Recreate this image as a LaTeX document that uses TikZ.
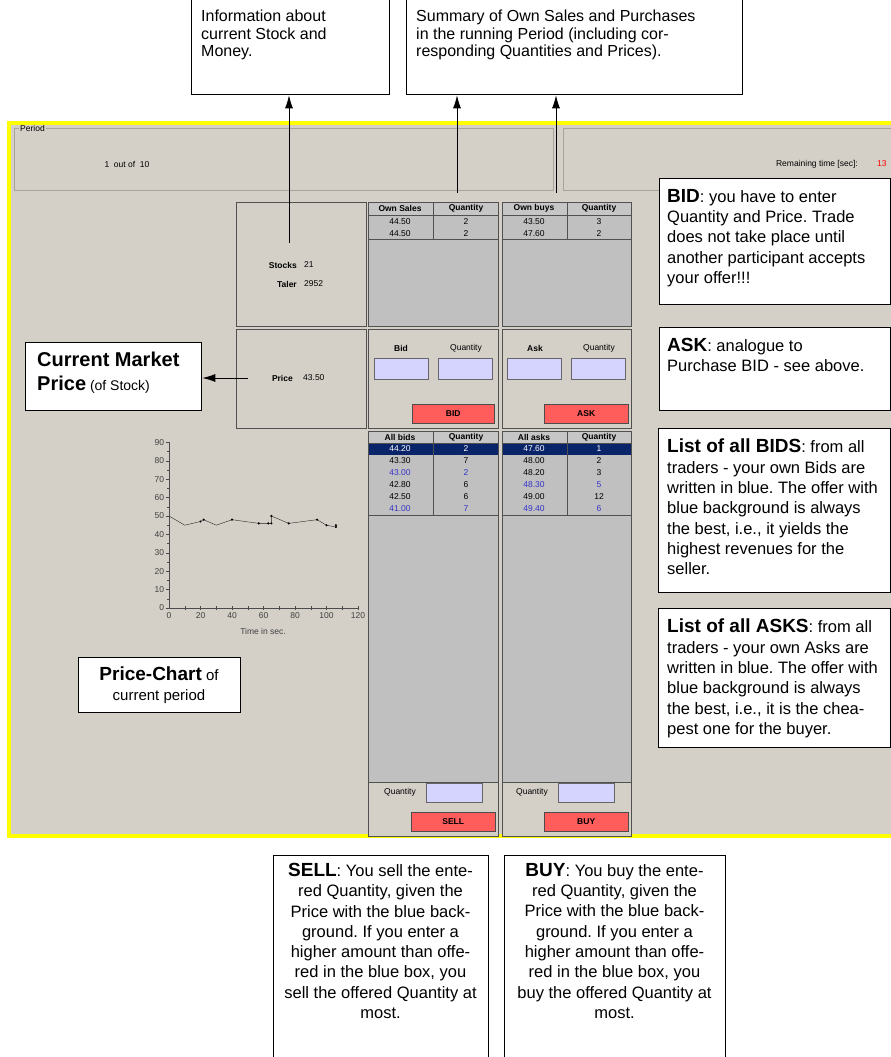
\documentclass[tikz,border=0pt]{standalone}
\usepackage{fontspec}
\setmainfont{Liberation Sans}
\usetikzlibrary{calc, arrows.meta}
\frenchspacing

\definecolor{winbg}{HTML}{D4D0C8}
\definecolor{listgrey}{HTML}{C0C0C0}
\definecolor{headgrey}{HTML}{C6C6C6}
\definecolor{panelline}{HTML}{505050}
\definecolor{navybar}{HTML}{0A246A}
\definecolor{inputblue}{HTML}{D4D4FF}
\definecolor{btnred}{HTML}{FF5C5C}
\definecolor{ownblue}{HTML}{3434C8}
\definecolor{framey}{HTML}{FFFF00}
\definecolor{etch}{HTML}{A8A49C}

\newcommand{\notefont}{\fontsize{16.5}{20.3}\selectfont}
\newcommand{\topfont}{\fontsize{16}{17.5}\selectfont}
\newcommand{\headfont}{\fontsize{19}{20.3}\selectfont\bfseries}
\newcommand{\uifont}{\fontsize{8.5}{10}\selectfont}
\newcommand{\uibold}{\fontsize{8.5}{10}\selectfont\bfseries}

\begin{document}
\begin{tikzpicture}[x=1pt, y=-1pt,
  note/.style={draw=black, line width=1.3pt, fill=white, anchor=north west, inner sep=0pt},
  txt/.style={anchor=north west, inner sep=0pt, align=left, font=\notefont},
  ctxt/.style={anchor=north, inner sep=0pt, align=center, font=\notefont},
  panel/.style={draw=panelline, fill=winbg, anchor=north west, inner sep=0pt},
  list/.style={draw=panelline, fill=listgrey, anchor=north west, inner sep=0pt},
  field/.style={draw=gray!80!black, fill=inputblue, anchor=north west, inner sep=0pt},
  button/.style={draw=black!70, fill=btnred, anchor=north west, inner sep=0pt, font=\uibold},
  lbl/.style={inner sep=0pt, font=\uifont},
  blbl/.style={inner sep=0pt, font=\uibold},
  arr/.style={-{Latex[length=13pt,width=8pt]}, line width=0.9pt}]

\useasboundingbox (0,0) rectangle (891,1057);
\clip (0,0) rectangle (891,1057);
\fill[white] (0,0) rectangle (891,1057);

% trading window
\draw[fill=winbg, draw=framey, line width=3.5pt] (9,123) rectangle (900,836);

% period line
\node[panel, draw=etch, minimum width=539, minimum height=62] (period) at (14,128) {};
\node[lbl, fill=winbg, inner xsep=1pt, anchor=west] (periodlbl) at (19,128) {Period};
\node[lbl] (round) at (127,164) {1\ \ out of\ \ 10};
\node[panel, draw=etch, minimum width=340, minimum height=62] (timer) at (563,128) {};
\node[lbl, anchor=east] (timelbl) at (858,164) {Remaining time [sec]:};
\node[lbl, text=red, anchor=west] (timeval) at (877,164) {13};

% stock and money
\node[panel, minimum width=130, minimum height=124] (stock) at (236,202) {};
\node[blbl, anchor=east] (stocklbl) at (297,265) {Stocks};
\node[lbl, anchor=west] (stockval) at (304,265) {21};
\node[blbl, anchor=east] (talerlbl) at (297,284) {Taler};
\node[lbl, anchor=west] (talerval) at (304,284) {2952};

% own sales
\node[list, minimum width=130, minimum height=124] (sales) at (368,202) {};
\draw[panelline, fill=headgrey] (368,202) rectangle (498,215);
\draw[panelline] (368,215) rectangle (498,239) (433,202) -- (433,239);
\node[blbl] (saleshd) at (400,208.5) {Own Sales};
\node[blbl] (salesqhd) at (466,208.5) {Quantity};
\node[lbl] (sale1) at (400,221.5) {44.50};
\node[lbl] (saleq1) at (466,221.5) {2};
\node[lbl] (sale2) at (400,233.5) {44.50};
\node[lbl] (saleq2) at (466,233.5) {2};

% own buys
\node[list, minimum width=129, minimum height=124] (buys) at (502,202) {};
\draw[panelline, fill=headgrey] (502,202) rectangle (631,215);
\draw[panelline] (502,215) rectangle (631,239) (567,202) -- (567,239);
\node[blbl] (buyshd) at (534,208.5) {Own buys};
\node[blbl] (buysqhd) at (599,208.5) {Quantity};
\node[lbl] (buy1) at (534,221.5) {43.50};
\node[lbl] (buyq1) at (599,221.5) {3};
\node[lbl] (buy2) at (534,233.5) {47.60};
\node[lbl] (buyq2) at (599,233.5) {2};

% price
\node[panel, minimum width=130, minimum height=99] (price) at (236,329) {};
\node[blbl, anchor=east] (pricelbl) at (293,378) {Price};
\node[lbl, anchor=west] (priceval) at (303,378) {43.50};

% bid entry
\node[panel, minimum width=130, minimum height=99] (bidpanel) at (368,329) {};
\node[blbl] (bidlbl) at (401,348) {Bid};
\node[lbl] (bidqlbl) at (466,348) {Quantity};
\node[field, minimum width=54, minimum height=21] (bidprice) at (374,358) {};
\node[field, minimum width=54, minimum height=21] (bidqty) at (438,358) {};
\node[button, minimum width=82, minimum height=19] (bidbtn) at (412,404) {BID};

% ask entry
\node[panel, minimum width=129, minimum height=99] (askpanel) at (502,329) {};
\node[blbl] (asklbl) at (535,348) {Ask};
\node[lbl] (askqlbl) at (599,348) {Quantity};
\node[field, minimum width=54, minimum height=21] (askprice) at (507,358) {};
\node[field, minimum width=54, minimum height=21] (askqty) at (571,358) {};
\node[button, minimum width=84, minimum height=19] (askbtn) at (544,404) {ASK};

% all bids
\node[list, minimum width=130, minimum height=351] (bids) at (368,431) {};
\draw[panelline, fill=headgrey] (368,431) rectangle (498,443);
\fill[navybar] (368,443) rectangle (498,455);
\draw[panelline] (368,443) rectangle (498,515) (433,431) -- (433,515);
\node[blbl] (bidshd) at (400,437) {All bids};
\node[blbl] (bidsqhd) at (466,437) {Quantity};
\foreach \p/\q/\c [count=\i] in {44.20/2/white, 43.30/7/black, 43.00/2/ownblue,
    42.80/6/black, 42.50/6/black, 41.00/7/ownblue} {
  \node[lbl, text=\c] (bid\i) at (400,437+12*\i) {\p};
  \node[lbl, text=\c] (bidq\i) at (466,437+12*\i) {\q};
}

% all asks
\node[list, minimum width=129, minimum height=351] (asks) at (502,431) {};
\draw[panelline, fill=headgrey] (502,431) rectangle (631,443);
\fill[navybar] (502,443) rectangle (631,455);
\draw[panelline] (502,443) rectangle (631,515) (567,431) -- (567,515);
\node[blbl] (askshd) at (534,437) {All asks};
\node[blbl] (asksqhd) at (599,437) {Quantity};
\foreach \p/\q/\c [count=\i] in {47.60/1/white, 48.00/2/black, 48.20/3/black,
    48.30/5/ownblue, 49.00/12/black, 49.40/6/ownblue} {
  \node[lbl, text=\c] (ask\i) at (534,437+12*\i) {\p};
  \node[lbl, text=\c] (askq\i) at (599,437+12*\i) {\q};
}

% sell / buy
\node[panel, minimum width=130, minimum height=54] (sellpanel) at (368,782) {};
\node[lbl] (sellqlbl) at (400,792) {Quantity};
\node[field, minimum width=56, minimum height=19] (sellqty) at (426,783) {};
\node[button, minimum width=84, minimum height=19] (sellbtn) at (411,812) {SELL};
\node[panel, minimum width=129, minimum height=54] (buypanel) at (502,782) {};
\node[lbl] (buyqlbl) at (532,792) {Quantity};
\node[field, minimum width=56, minimum height=19] (buyqty) at (558,783) {};
\node[button, minimum width=84, minimum height=19] (buybtn) at (544,812) {BUY};

% price chart
\begin{scope}[shift={(169,608)}, x=1.575pt, y=1.84pt, font=\uifont, text=black!75]
  \draw[black!70] (0,90) -- (0,0) -- (120,0);
  \foreach \v in {0,10,...,90} {
    \draw[black!70] (-2,\v) -- (0,\v);
    \node[anchor=east, inner sep=0pt] (ylab\v) at (-3,\v) {\v};
  }
  \foreach \v in {5,15,...,85} \draw[black!70] (-1.2,\v) -- (0,\v);
  \foreach \t in {10,20,...,120} \draw[black!70] (\t,-1.2) -- (\t,1.2);
  \foreach \t in {0,20,...,120} \node[anchor=north, inner sep=0pt] (xlab\t) at (\t,-2.5) {\t};
  \draw[black!85] plot coordinates {(0,50) (10,45) (20,47) (22,48) (30,45) (40,48) (57,46)
    (63,46) (65,46) (65,50) (76,46) (94,48) (100,45) (106,44) (106,45)};
  \foreach \t/\v in {20/47, 22/48, 40/48, 57/46, 63/46, 65/46, 65/50, 76/46, 94/48, 100/45, 106/44, 106/45}
    \fill (\t,\v) circle (1.2pt);
\end{scope}
\node[lbl, text=black!75] (timeaxis) at (263,631) {Time in sec.};

% explanations
\node[note, minimum width=198, minimum height=95] (info) at (191,-1) {};
\node[txt, font=\topfont] (infotext) at (201,10) {Information about\\current Stock and\\Money.};
\node[note, minimum width=336, minimum height=95] (summary) at (406,-1) {};
\node[txt, font=\topfont] (summarytext) at (416,10) {Summary of Own Sales and Purchases\\in the running Period (including cor-\\responding Quantities and Prices).};

\node[note, minimum width=231, minimum height=126] (bidnote) at (659,178) {};
\node[txt] (bidtext) at (667,189) {{\headfont BID}: you have to enter\\Quantity and Price. Trade\\does not take place until\\another participant accepts\\your offer!!!};
\node[note, minimum width=231, minimum height=83] (asknote) at (659,327) {};
\node[txt] (asktext) at (667,338) {{\headfont ASK}: analogue to\\Purchase BID - see above.};
\node[note, minimum width=232, minimum height=164] (bidsnote) at (658,428) {};
\node[txt] (bidstext) at (667,439) {{\headfont List of all BIDS}: from all\\traders - your own Bids are\\written in blue. The offer with\\blue background is always\\the best, i.e., it yields the\\highest revenues for the\\seller.};
\node[note, minimum width=232, minimum height=139] (asksnote) at (658,608) {};
\node[txt] (askstext) at (667,619) {{\headfont List of all ASKS}: from all\\traders - your own Asks are\\written in blue. The offer with\\blue background is always\\the best, i.e., it is the chea-\\pest one for the buyer.};

\node[note, minimum width=176, minimum height=68] (market) at (25,342) {};
\node[txt, font=\fontsize{14}{24}\selectfont] (markettext) at (37,352) {{\fontsize{20}{24}\selectfont\bfseries Current Market}\\{\fontsize{20}{24}\selectfont\bfseries Price} (of Stock)};
\node[note, minimum width=162, minimum height=55] (chartnote) at (78,657) {};
\node[ctxt, font=\fontsize{15}{20}\selectfont] (charttext) at (159,667) {{\headfont Price-Chart} of\\current period};

\node[note, minimum width=215, minimum height=230] (sellnote) at (273,855) {};
\node[ctxt] (selltext) at (380.5,863) {{\headfont SELL}: You sell the ente-\\red Quantity, given the\\Price with the blue back-\\ground. If you enter a\\higher amount than offe-\\red in the blue box, you\\sell the offered Quantity at\\most.};
\node[note, minimum width=221, minimum height=230] (buynote) at (504,855) {};
\node[ctxt] (buytext) at (614.5,863) {{\headfont BUY}: You buy the ente-\\red Quantity, given the\\Price with the blue back-\\ground. If you enter a\\higher amount than offe-\\red in the blue box, you\\buy the offered Quantity at\\most.};

% pointers
\coordinate (stockpt) at (289,243);
\coordinate (salespt) at (457,193);
\coordinate (buyspt) at (556,193);
\coordinate (pricept) at (248,378);
\draw[arr] (stockpt) -- (stockpt |- info.south);
\draw[arr] (salespt) -- (salespt |- summary.south);
\draw[arr] (buyspt) -- (buyspt |- summary.south);
\draw[arr] (pricept) -- (pricept -| market.east);
\end{tikzpicture}
\end{document}
